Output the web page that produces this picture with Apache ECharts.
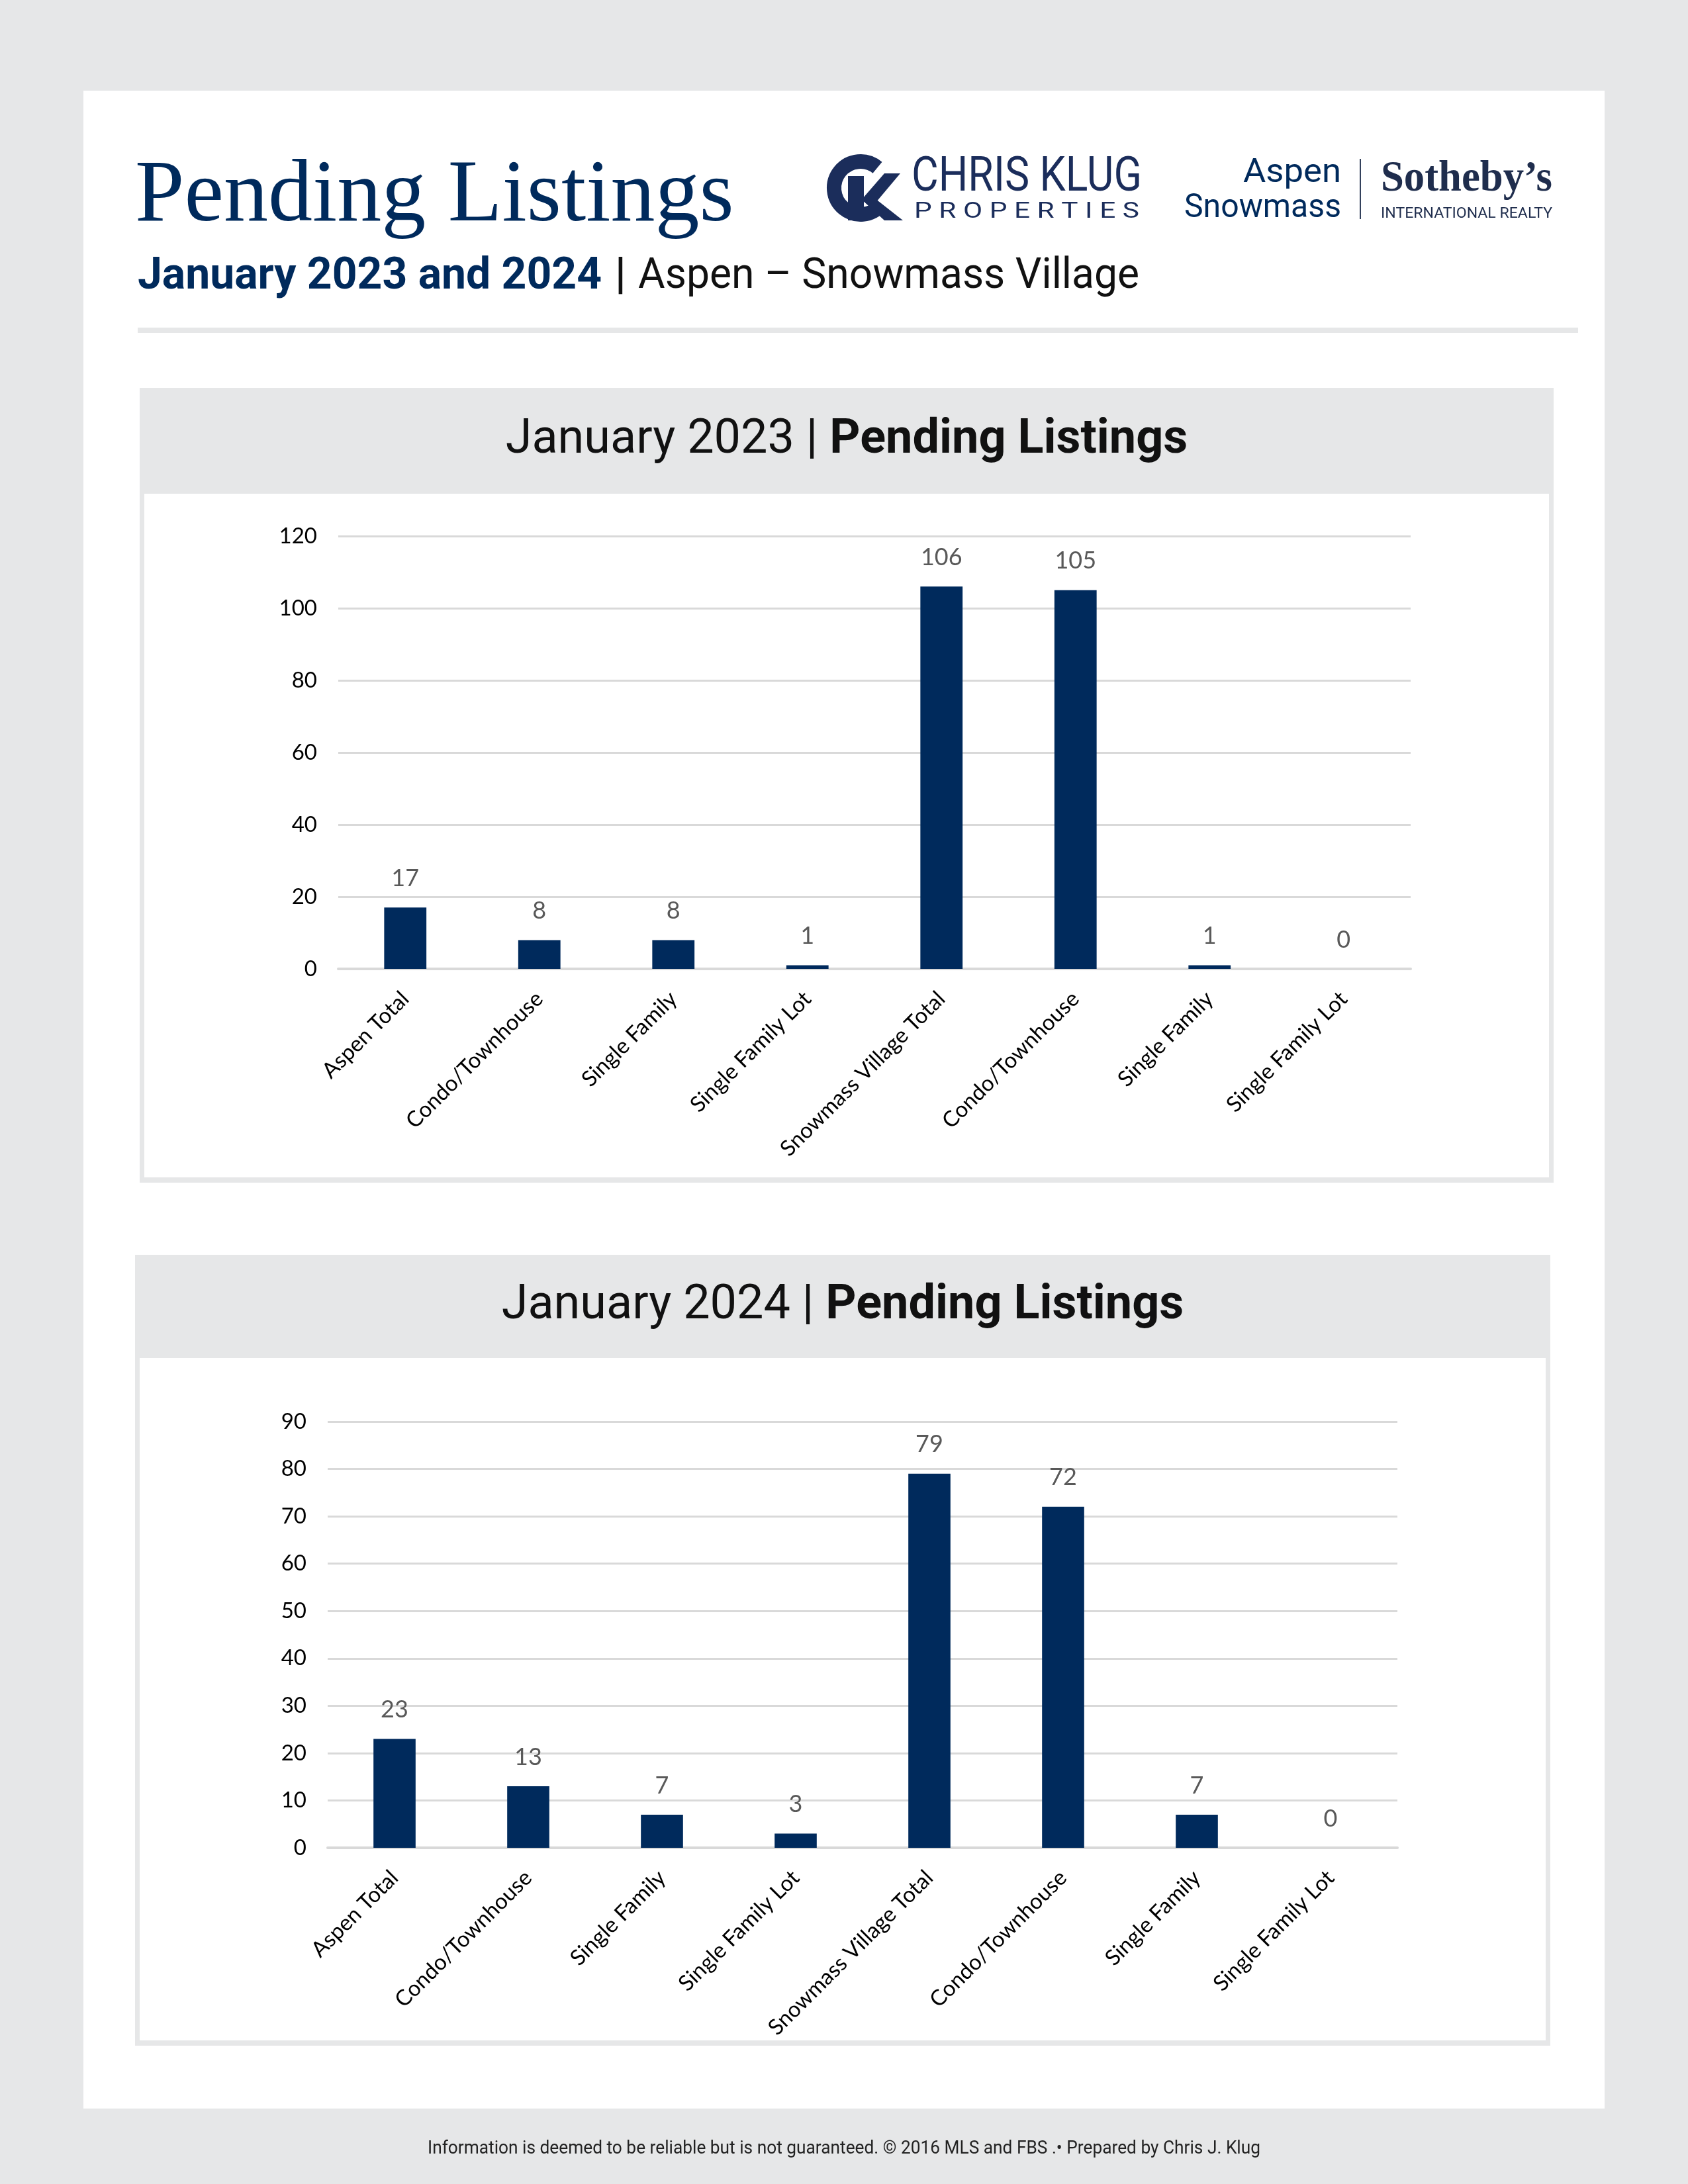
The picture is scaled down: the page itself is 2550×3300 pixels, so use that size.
<!DOCTYPE html>
<html><head><meta charset="utf-8">
<script src="https://cdn.jsdelivr.net/npm/echarts@6/dist/echarts.min.js"></script>
<style>html,body{margin:0;padding:0;background:#e6e7e8}#c{width:2550px;height:3300px}</style>
</head><body><div id="c"></div>
<script>
const categories = ['Aspen Total','Condo/Townhouse','Single Family','Single Family Lot','Snowmass Village Total','Condo/Townhouse','Single Family','Single Family Lot'];
const values2023 = [17, 8, 8, 1, 106, 105, 1, 0];
const values2024 = [23, 13, 7, 3, 79, 72, 7, 0];
const yAxis2023 = {min: 0, max: 120, interval: 20};
const yAxis2024 = {min: 0, max: 90, interval: 10};
const pageTitle = 'Pending Listings';
const subtitleBold = 'January 2023 and 2024';
const subtitleRest = 'Aspen – Snowmass Village';
const chartTitles = [['January 2023 | ', 'Pending Listings'], ['January 2024 | ', 'Pending Listings']];
const footer = 'Information is deemed to be reliable but is not guaranteed. © 2016 MLS and FBS .• Prepared by Chris J. Klug';

const NAVY = '#002a5c';
const LOGO = '#1b2d5b';
const GRAY = '#e6e7e8';
const labelFont = 'Lato, "Open Sans", sans-serif';

const mctx = document.createElement('canvas').getContext('2d');
function measure(text, size, family, weight) {
  mctx.font = (weight || 'normal') + ' ' + size + 'px ' + family;
  return mctx.measureText(text).width;
}
function fitText(text, x, y, targetW, size, family, weight, fill, align) {
  const w = measure(text, size, family, weight);
  return {type: 'text', x: x, y: y, scaleX: targetW / w, style: {
    text: text, fontFamily: family, fontSize: size, fontWeight: weight || 'normal',
    fill: fill, align: align || 'left', verticalAlign: 'middle'}};
}

function panel(x, y, w, h, headH, titleParts) {
  return [
    {type: 'rect', shape: {x: x, y: y, width: w, height: h}, style: {fill: GRAY}, silent: true, z: -10},
    {type: 'rect', shape: {x: x + 7, y: y + headH, width: w - 14, height: h - headH - 8}, style: {fill: '#fff'}, silent: true, z: -9},
    {type: 'text', x: x + w / 2, y: y + headH / 2, z: 5, style: {
      text: '{a|' + titleParts[0] + '}{b|' + titleParts[1] + '}',
      align: 'center', verticalAlign: 'middle',
      rich: {
        a: {fontFamily: 'Roboto, sans-serif', fontSize: 72, fill: '#111'},
        b: {fontFamily: 'Roboto, sans-serif', fontSize: 72, fontWeight: 'bold', fill: '#111'}
      }
    }}
  ];
}

const SUBF = 'Roboto, sans-serif';
const boldW = measure(subtitleBold, 66, SUBF, 'bold');

const graphics = [
  {type: 'rect', shape: {x: 126, y: 137, width: 2298, height: 3049}, style: {fill: '#fff'}, silent: true, z: -20},
  {type: 'text', x: 204, y: 298, style: {text: pageTitle, fontFamily: '"Liberation Serif", "DejaVu Serif", serif', fontSize: 134, fill: NAVY, verticalAlign: 'middle'}},
  {type: 'text', x: 208, y: 419, style: {text: subtitleBold, fontFamily: SUBF, fontSize: 66, fontWeight: 'bold', fill: NAVY, verticalAlign: 'middle'}},
  {type: 'text', x: 208 + boldW + 20, y: 419, style: {text: '|', fontFamily: SUBF, fontSize: 66, fontWeight: 'bold', fill: '#111', verticalAlign: 'middle'}},
  fitText(subtitleRest, 964, 419, 757, 64, SUBF, 'normal', '#111'),
  {type: 'rect', shape: {x: 208, y: 495, width: 2176, height: 8}, style: {fill: GRAY}, silent: true},
  // Chris Klug monogram
  {type: 'arc', shape: {cx: 1300, cy: 284, r: 40, startAngle: -Math.PI * 0.28, endAngle: Math.PI * 0.22, clockwise: false}, style: {stroke: LOGO, lineWidth: 22, fill: null}},
  {type: 'rect', shape: {x: 1281, y: 266, width: 24, height: 67}, style: {fill: LOGO}},
  {type: 'polygon', shape: {points: [[1303, 300], [1336, 262], [1360, 262], [1318, 312]]}, style: {fill: LOGO}},
  {type: 'polygon', shape: {points: [[1300, 300], [1322, 300], [1364, 333], [1336, 333]]}, style: {fill: LOGO}},
  fitText('CHRIS KLUG', 1377, 270, 348, 72, 'Roboto, sans-serif', 'normal', LOGO),
  fitText('P R O P E R T I E S', 1381, 320, 340, 34, 'Roboto, sans-serif', 'normal', LOGO),
  // Aspen Snowmass Sotheby's
  fitText('Aspen', 2026, 262, 148, 50, 'Roboto, sans-serif', 'normal', NAVY, 'right'),
  fitText('Snowmass', 2026, 315, 237, 50, 'Roboto, sans-serif', 'normal', NAVY, 'right'),
  {type: 'rect', shape: {x: 2054, y: 240, width: 2, height: 91}, style: {fill: '#33415c'}, silent: true},
  fitText('Sotheby’s', 2086, 271, 259, 66, '"Liberation Serif", serif', 'bold', '#1f2d4d'),
  fitText('INTERNATIONAL REALTY', 2086, 323, 259, 22, 'Roboto, sans-serif', 'normal', '#1f2d4d'),
  ...panel(211, 586, 2136, 1201, 160, chartTitles[0]),
  ...panel(204, 1896, 2138, 1195, 156, chartTitles[1]),
  fitText(footer, 1275, 3247, 1258, 28, 'Roboto, sans-serif', 'normal', '#222', 'center')
];

function xAxis(gridIndex) {
  return {
    type: 'category', gridIndex: gridIndex, data: categories,
    axisLine: {lineStyle: {color: '#d9d9d9', width: 4}},
    axisTick: {show: false},
    axisLabel: {rotate: 45, interval: 0, margin: 40, fontFamily: labelFont, fontSize: 33, color: '#000'}
  };
}
function yAxis(gridIndex, cfg) {
  return {
    type: 'value', gridIndex: gridIndex, min: cfg.min, max: cfg.max, interval: cfg.interval,
    axisLine: {show: false}, axisTick: {show: false},
    splitLine: {lineStyle: {color: '#d9d9d9', width: 3}},
    axisLabel: {margin: 32, fontFamily: labelFont, fontSize: 33, color: '#000'}
  };
}
function barSeries(idx, data) {
  return {
    type: 'bar', xAxisIndex: idx, yAxisIndex: idx, data: data, barWidth: '31.5%',
    itemStyle: {color: NAVY},
    label: {show: true, position: 'top', distance: 26, fontFamily: labelFont, fontSize: 36, color: '#595959'}
  };
}

const chart = echarts.init(document.getElementById('c'));
chart.setOption({
  backgroundColor: GRAY,
  animation: false,
  graphic: graphics,
  grid: [
    {left: 511, right: 419, top: 810, bottom: 1836},
    {left: 495, right: 439, top: 2148, bottom: 508}
  ],
  xAxis: [xAxis(0), xAxis(1)],
  yAxis: [yAxis(0, yAxis2023), yAxis(1, yAxis2024)],
  series: [barSeries(0, values2023), barSeries(1, values2024)]
});
</script></body></html>
